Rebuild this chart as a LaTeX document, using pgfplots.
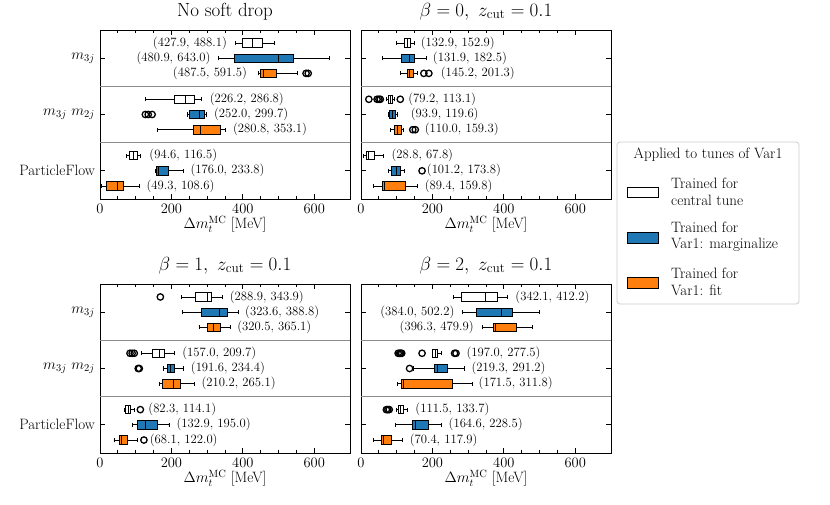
\RequirePackage{fix-cm}
\documentclass[border=0pt]{standalone}
\usepackage{pgfplots}
\pgfplotsset{compat=1.18}
\usepgfplotslibrary{statistics}
\definecolor{cblue}{HTML}{1F77B4}
\definecolor{corange}{HTML}{FF7F0E}
\newcommand{\fs}[1]{\fontsize{#1}{#1}\selectfont}
\newcommand{\lfs}{\fontsize{15}{16.5}\selectfont}
\newcommand{\bx}[7]{\addplot[fill=#1, draw=black, line width=0.8pt, boxplot/draw direction=x, boxplot prepared={draw position=#2, lower whisker=#3, lower quartile=#4, median=#5, upper quartile=#6, upper whisker=#7, box extend=0.15, whisker extend=0.075}] coordinates {};}
\newcommand{\out}[1]{\addplot[only marks, mark=o, mark size=3.2pt, black, line width=1.3pt, forget plot] coordinates {#1};}
\newcommand{\ann}[4]{\node[anchor=#1, inner sep=0pt, font=\fs{12.7}] at (axis cs:#2,#3) {#4};}
\newcommand{\seps}{\draw[black!45, line width=0.8pt] (axis cs:0,1) -- (axis cs:700,1); \draw[black!45, line width=0.8pt] (axis cs:0,2) -- (axis cs:700,2);}
\newcommand{\ylabs}{%
\node[anchor=east, inner sep=0pt, font=\fs{15}] at (axis cs:-14,2.5) {$m_{3j}$};
\node[anchor=east, inner sep=0pt, font=\fs{15}] at (axis cs:-14,1.5) {$m_{3j}\ m_{2j}$};
\node[anchor=east, inner sep=0pt, font=\fs{15}] at (axis cs:-14,0.5) {ParticleFlow};}
\pgfplotsset{panel/.style={
  scale only axis, width=250pt, height=169pt, anchor=south west,
  xmin=0, xmax=700, ymin=0, ymax=3,
  xtick={0,200,400,600}, xticklabels={0,200,400,600}, minor x tick num=3,
  ytick={0.5,1.5,2.5}, yticklabels={},
  tick align=inside,
  major tick length=5pt, minor tick length=3pt,
  every tick/.style={black, line width=0.8pt},
  axis line style={line width=0.9pt},
  xticklabel style={font=\fs{14.5}, inner sep=1pt, anchor=north, yshift=-4pt},
  xlabel={$\Delta m_t^{\mathrm{MC}}$ [MeV]},
  xlabel style={font=\fs{15}, at={(axis description cs:0.5,0)}, anchor=north, yshift=-17pt, inner sep=0pt},
  title style={font=\fs{19}, at={(axis description cs:0.5,1)}, anchor=south, inner sep=0pt, yshift=4pt},
  clip=false,
}}
\begin{document}
\begin{tikzpicture}
\useasboundingbox (0pt,0pt) rectangle (830pt,505pt);
% Panel 1
\begin{axis}[panel, at={(100pt,306pt)}, title={No soft drop}]
\seps
\ylabs
\bx{white}{2.77}{378}{399}{427}{454}{487}
\bx{cblue}{2.5}{332}{376}{499}{541}{642}
\bx{corange}{2.23}{444}{449}{457}{495}{554}
\out{(577,2.23)(583,2.23)}
\bx{white}{1.77}{127}{207}{239}{265}{285}
\bx{cblue}{1.5}{244}{249}{277}{293}{297}
\out{(127,1.5)(135,1.5)(146,1.5)}
\bx{corange}{1.23}{161}{262}{282}{337}{351}
\bx{white}{0.77}{74}{83}{93}{104}{114}
\bx{cblue}{0.5}{156}{158}{163}{192}{234}
\bx{corange}{0.23}{3}{17}{48}{65}{110}
\ann{east}{356}{2.77}{(427.9, 488.1)}
\ann{east}{310}{2.5}{(480.9, 643.0)}
\ann{east}{412}{2.23}{(487.5, 591.5)}
\ann{west}{307}{1.77}{(226.2, 286.8)}
\ann{west}{319}{1.5}{(252.0, 299.7)}
\ann{west}{372}{1.23}{(280.8, 353.1)}
\ann{west}{138}{0.77}{(94.6, 116.5)}
\ann{west}{253}{0.5}{(176.0, 233.8)}
\ann{west}{130}{0.23}{(49.3, 108.6)}
\end{axis}
% Panel 2
\begin{axis}[panel, at={(361pt,306pt)}, title={$\beta=0,\ z_{\mathrm{cut}}=0.1$}]
\seps
\bx{white}{2.77}{99}{122}{130}{139}{150}
\bx{cblue}{2.5}{59}{113}{136}{150}{183}
\bx{corange}{2.23}{110}{130}{136}{146}{158}
\out{(176,2.23)(190,2.23)}
\bx{white}{1.77}{71}{76}{81}{88}{94}
\out{(22,1.77)(45,1.77)(50,1.77)(54,1.77)(110,1.77)}
\bx{cblue}{1.5}{76}{80}{89}{97}{101}
\bx{corange}{1.23}{82}{94}{103}{113}{119}
\out{(145,1.23)(152,1.23)}
\bx{white}{0.77}{6}{15}{20}{38}{64}
\bx{cblue}{0.5}{76}{85}{99}{111}{122}
\out{(171,0.5)}
\bx{corange}{0.23}{34}{59}{66}{124}{158}
\ann{west}{167}{2.77}{(132.9, 152.9)}
\ann{west}{201}{2.5}{(131.9, 182.5)}
\ann{west}{223}{2.23}{(145.2, 201.3)}
\ann{west}{132}{1.77}{(79.2, 113.1)}
\ann{west}{139}{1.5}{(93.9, 119.6)}
\ann{west}{178}{1.23}{(110.0, 159.3)}
\ann{west}{85}{0.77}{(28.8, 67.8)}
\ann{west}{184}{0.5}{(101.2, 173.8)}
\ann{west}{178}{0.23}{(89.4, 159.8)}
\end{axis}
% Panel 3
\begin{axis}[panel, at={(100pt,52pt)}, title={$\beta=1,\ z_{\mathrm{cut}}=0.1$}]
\seps
\ylabs
\bx{white}{2.77}{228}{268}{302}{313}{344}
\out{(169,2.77)}
\bx{cblue}{2.5}{231}{284}{335}{358}{388}
\bx{corange}{2.23}{277}{302}{318}{337}{364}
\bx{white}{1.77}{116}{147}{165}{179}{209}
\out{(84,1.77)(90,1.77)(96,1.77)}
\bx{cblue}{1.5}{177}{188}{198}{209}{234}
\out{(107,1.5)(110,1.5)}
\bx{corange}{1.23}{167}{175}{206}{225}{265}
\bx{white}{0.77}{68}{72}{79}{86}{96}
\out{(113,0.77)}
\bx{cblue}{0.5}{91}{104}{128}{160}{193}
\bx{corange}{0.23}{39}{53}{60}{76}{104}
\out{(123,0.23)}
\ann{west}{363}{2.77}{(288.9, 343.9)}
\ann{west}{406}{2.5}{(323.6, 388.8)}
\ann{west}{384}{2.23}{(320.5, 365.1)}
\ann{west}{230}{1.77}{(157.0, 209.7)}
\ann{west}{254}{1.5}{(191.6, 234.4)}
\ann{west}{284}{1.23}{(210.2, 265.1)}
\ann{west}{135}{0.77}{(82.3, 114.1)}
\ann{west}{214}{0.5}{(132.9, 195.0)}
\ann{west}{139}{0.23}{(68.1, 122.0)}
\end{axis}
% Panel 4
\begin{axis}[panel, at={(361pt,52pt)}, title={$\beta=2,\ z_{\mathrm{cut}}=0.1$}]
\seps
\bx{white}{2.77}{260}{281}{349}{382}{410}
\bx{cblue}{2.5}{284}{323}{393}{424}{500}
\bx{corange}{2.23}{339}{372}{377}{435}{479}
\bx{white}{1.77}{199}{201}{208}{215}{225}
\out{(104,1.77)(108,1.77)(111,1.77)(114,1.77)(171,1.77)(262,1.77)(266,1.77)}
\bx{cblue}{1.5}{146}{206}{215}{243}{290}
\out{(136,1.5)}
\bx{corange}{1.23}{102}{113}{119}{256}{311}
\bx{white}{0.77}{99}{104}{111}{119}{130}
\out{(71,0.77)(75,0.77)(79,0.77)}
\bx{cblue}{0.5}{97}{144}{152}{188}{225}
\bx{corange}{0.23}{36}{57}{64}{85}{116}
\ann{west}{432}{2.77}{(342.1, 412.2)}
\ann{east}{262}{2.5}{(384.0, 502.2)}
\ann{east}{316}{2.23}{(396.3, 479.9)}
\ann{west}{295}{1.77}{(197.0, 277.5)}
\ann{west}{309}{1.5}{(219.3, 291.2)}
\ann{west}{329}{1.23}{(171.5, 311.8)}
\ann{west}{152}{0.77}{(111.5, 133.7)}
\ann{west}{245}{0.5}{(164.6, 228.5)}
\ann{west}{136}{0.23}{(70.4, 117.9)}
\end{axis}
% Legend
\draw[black!20, line width=0.8pt, rounded corners=3pt, fill=white] (617pt,201pt) rectangle (799pt,363pt);
\node[font=\fs{15}] at (708pt,350pt) {Applied to tunes of Var1};
\draw[fill=white, line width=0.8pt] (627pt,308pt) rectangle (658pt,318pt);
\node[anchor=west, align=left, inner sep=0pt, font=\lfs] at (671pt,313pt) {Trained for\\central tune};
\draw[fill=cblue, line width=0.8pt] (627pt,262pt) rectangle (658pt,273pt);
\node[anchor=west, align=left, inner sep=0pt, font=\lfs] at (671pt,268pt) {Trained for\\Var1: marginalize};
\draw[fill=corange, line width=0.8pt] (627pt,217pt) rectangle (658pt,228pt);
\node[anchor=west, align=left, inner sep=0pt, font=\lfs] at (671pt,223pt) {Trained for\\Var1: fit};
\end{tikzpicture}
\end{document}
